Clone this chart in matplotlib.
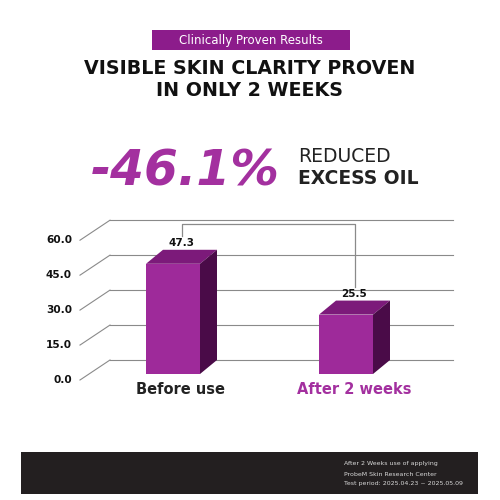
import numpy as np
import matplotlib.pyplot as plt
from matplotlib.patches import Rectangle, Polygon

# data
categories = ["Before use", "After 2 weeks"]
values = [47.3, 25.5]
ticks = [0.0, 15.0, 30.0, 45.0, 60.0]
change_label = "-46.1%"
footer_lines = ["After 2 Weeks use of applying",
                "ProbeM Skin Research Center",
                "Test period: 2025.04.23 ~ 2025.05.09"]

# colours
purple = "#A3309F"
front_c = "#9E2A9A"
top_c = "#7C1A7A"
side_c = "#4A0B48"
grid_c = "#8A8A8A"

PX = 2.33      # pixels per unit
ZERO_PX = 380  # pixel row of value 0 (front plane)
def u(px):
    return px / PX

fig = plt.figure(figsize=(5, 5), dpi=100)
fig.patch.set_facecolor("white")

# background / text layer in pixel coords
bg = fig.add_axes([0, 0, 1, 1])
bg.set_xlim(0, 500)
bg.set_ylim(500, 0)
bg.axis("off")

bg.add_patch(Rectangle((152, 30), 198, 20, color="#8C1C8B", lw=0))
bg.text(251, 40.5, "Clinically Proven Results", color="white", fontsize=8.5,
        ha="center", va="center", fontweight="medium")
bg.text(250, 69, "VISIBLE SKIN CLARITY PROVEN", fontsize=13.7, fontweight="bold",
        ha="center", va="center", color="#111111")
bg.text(250, 90, "IN ONLY 2 WEEKS", fontsize=13.7, fontweight="bold",
        ha="center", va="center", color="#111111")

bg.text(280, 185, change_label, fontsize=35, fontweight="bold", style="italic",
        ha="right", va="baseline", color=purple)
bg.text(298, 162, "REDUCED", fontsize=13.5, fontweight="normal",
        ha="left", va="baseline", color="#222222")
bg.text(298, 184, "EXCESS OIL", fontsize=13.5, fontweight="bold",
        ha="left", va="baseline", color="#222222")

bg.add_patch(Rectangle((21, 452), 457, 42, color="#231F20", lw=0))
for i, line in enumerate(footer_lines):
    bg.text(344, 464 + i * 10, line, fontsize=4.5, color="#D8D8D8",
            ha="left", va="center")

# chart layer: x in pixels, y in values
ax = fig.add_axes([0, 0, 1, 1])
ax.set_xlim(0, 500)
ax.set_ylim((ZERO_PX - 500) / PX, ZERO_PX / PX)
ax.axis("off")
ax.patch.set_alpha(0)

# grid (3d back wall)
for t in ticks:
    ax.plot([80, 110], [t, t + u(20)], color=grid_c, lw=0.8, zorder=1)
    ax.plot([110, 453], [t + u(20), t + u(20)], color=grid_c, lw=0.8, zorder=1)
    ax.text(72, t, f"{t:.1f}", ha="right", va="center", fontsize=7.6,
            fontweight="bold", color="#111111")

# bars
x0s = [146, 319]
w = 54
dx = 17
d = u(14)
b = u(6)
tops = []
for x0, v in zip(x0s, values):
    ax.add_patch(Rectangle((x0, b), w, v, color=front_c, lw=0, zorder=3))
    ax.add_patch(Polygon([(x0, b + v), (x0 + dx, b + v + d),
                          (x0 + w + dx, b + v + d), (x0 + w, b + v)],
                         color=top_c, lw=0, zorder=3))
    ax.add_patch(Polygon([(x0 + w, b), (x0 + w + dx, b + d),
                          (x0 + w + dx, b + v + d), (x0 + w, b + v)],
                         color=side_c, lw=0, zorder=3))
    xc = x0 + w / 2 + dx / 2
    ax.text(xc, b + v + d + u(1.5), f"{v}", ha="center", va="bottom",
            fontsize=7.5, fontweight="bold", color="#111111", zorder=4)
    tops.append((xc, b + v + d + u(14)))

# bracket between the two values
ytop = max(t[1] for t in tops) + u(12)
ax.plot([tops[0][0], tops[0][0], tops[1][0], tops[1][0]],
        [tops[0][1], ytop, ytop, tops[1][1]], color=grid_c, lw=0.9, zorder=2)

# category labels
cat_colors = ["#222222", purple]
for x0, cat, c in zip(x0s, categories, cat_colors):
    ax.text(x0 + 35, u(-10), cat, ha="center", va="center", fontsize=10.5,
            fontweight="bold", color=c)

fig.savefig("out.png", dpi=100)
